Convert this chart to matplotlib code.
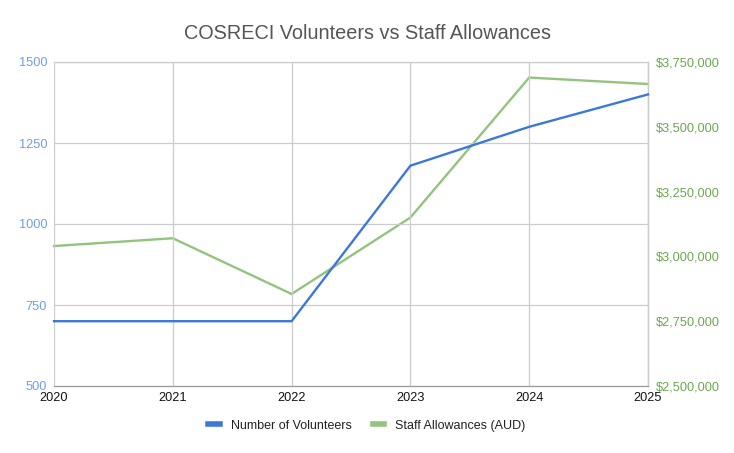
import matplotlib.pyplot as plt
from matplotlib.ticker import FuncFormatter

plt.rcParams["font.family"] = ["Liberation Sans", "DejaVu Sans"]

years = [2020, 2021, 2022, 2023, 2024, 2025]
volunteers = [700, 700, 700, 1180, 1300, 1400]
allowances = [3040000, 3070000, 2855000, 3150000, 3690000, 3665000]

left_ticks = [500, 750, 1000, 1250, 1500]
right_ticks = [2500000, 2750000, 3000000, 3250000, 3500000, 3750000]

BLUE = "#3c78d8"
GREEN = "#93c47d"

fig = plt.figure(figsize=(7.34, 4.53), dpi=100)
ax = fig.add_axes([54 / 734, 1 - 386 / 453, (648 - 54) / 734, 324 / 453])
ax2 = ax.twinx()

ax.plot(years, volunteers, color=BLUE, linewidth=1.7, label="Number of Volunteers",
        zorder=3, clip_on=False)
ax2.plot(years, allowances, color=GREEN, linewidth=1.7, label="Staff Allowances (AUD)",
         clip_on=False)

ax.set_xlim(2020, 2025)
ax.set_ylim(500, 1500)
ax2.set_ylim(2500000, 3750000)
ax.set_xticks(years)
ax.set_yticks(left_ticks)
ax2.set_yticks(right_ticks)
ax2.yaxis.set_major_formatter(FuncFormatter(lambda v, _: f"${v:,.0f}"))

ax.grid(True, color="#cccccc", linewidth=0.9)
for a in (ax, ax2):
    for side in ("top", "left"):
        a.spines[side].set_visible(False)
    a.spines["right"].set_color("#cccccc")
    a.spines["right"].set_linewidth(0.9)
    a.spines["bottom"].set_color("#999999")
    a.tick_params(length=0)
ax.spines["top"].set_visible(True)
ax.spines["top"].set_color("#cccccc")
ax.spines["top"].set_linewidth(0.9)

ax.tick_params(axis="y", colors="#6d9eeb", labelsize=9.2, pad=5)
ax.tick_params(axis="x", colors="#111111", labelsize=9.2, pad=4)
ax2.tick_params(axis="y", colors="#6aa84f", labelsize=9.2, pad=6)

# Volunteers line above the allowances line
ax.set_zorder(ax2.get_zorder() + 1)
ax.patch.set_visible(False)

fig.suptitle("COSRECI Volunteers vs Staff Allowances", y=0.948, fontsize=14.3, color="#555555")

h1, l1 = ax.get_legend_handles_labels()
h2, l2 = ax2.get_legend_handles_labels()
fig.legend(h1 + h2, l1 + l2, loc="center", bbox_to_anchor=(0.5, 0.06), ncol=2,
           frameon=False, fontsize=9, handlelength=0.9, columnspacing=1.7,
           handletextpad=0.9, labelcolor="#222222")
for line in fig.legends[0].get_lines():
    line.set_linewidth(4)

fig.savefig("out.png", dpi=100)
